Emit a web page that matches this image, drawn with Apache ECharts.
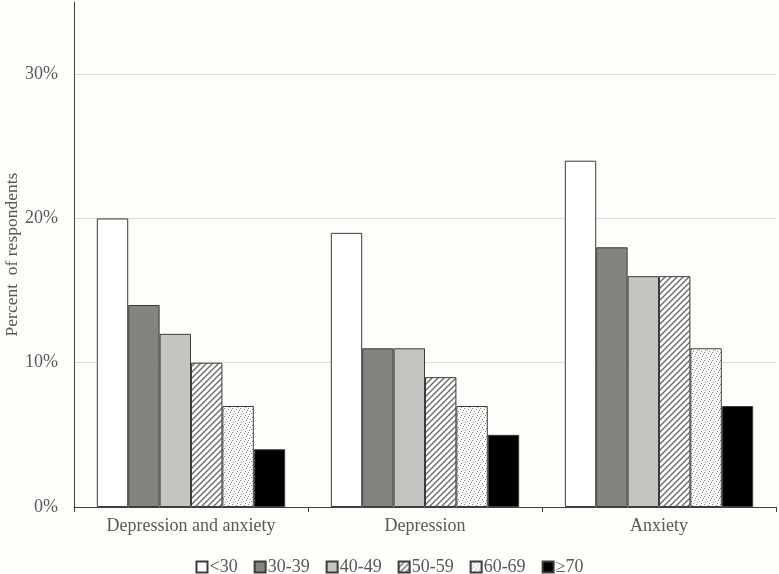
<!DOCTYPE html>
<html><head><meta charset="utf-8">
<script src="https://cdn.jsdelivr.net/npm/echarts@6/dist/echarts.min.js"></script>
<style>html,body{margin:0;padding:0;background:#fdfdf9;}#c{width:779px;height:574px;}</style>
</head><body><div id="c"></div>
<script>
const categories = ['Depression and anxiety', 'Depression', 'Anxiety'];
const ageGroups = ['<30', '30-39', '40-49', '50-59', '60-69', '≥70'];
const lt30 = [20, 19, 24];
const a30_39 = [14, 11, 18];
const a40_49 = [12, 11, 16];
const a50_59 = [10, 9, 16];
const a60_69 = [7, 7, 11];
const ge70 = [4, 5, 7];
const yTicks = [0, 10, 20, 30];

function stripes() {
  const c = document.createElement('canvas');
  c.width = 6; c.height = 6;
  const g = c.getContext('2d');
  g.fillStyle = '#ffffff'; g.fillRect(0, 0, 6, 6);
  g.strokeStyle = '#6a6a6a'; g.lineWidth = 1.4;
  g.beginPath();
  g.moveTo(-1, 7); g.lineTo(7, -1);
  g.moveTo(-4, 4); g.lineTo(4, -4);
  g.moveTo(2, 10); g.lineTo(10, 2);
  g.stroke();
  return c;
}
function dots() {
  const c = document.createElement('canvas');
  c.width = 8; c.height = 8;
  const g = c.getContext('2d');
  g.fillStyle = '#ffffff'; g.fillRect(0, 0, 8, 8);
  g.fillStyle = '#8a8a8a';
  [[0,0],[4,1],[2,3],[6,4],[1,6],[5,7],[3,5],[7,2]].forEach(p => g.fillRect(p[0], p[1], 1, 1));
  return c;
}

const fills = ['#ffffff', '#84847f', '#c4c4c0', {image: stripes(), repeat: 'repeat'}, {image: dots(), repeat: 'repeat'}, '#000000'];
const values = [lt30, a30_39, a40_49, a50_59, a60_69, ge70];
const font = '"Liberation Serif", "Times New Roman", serif';

const chart = echarts.init(document.getElementById('c'), null, {renderer: 'canvas'});
chart.setOption({
  backgroundColor: '#fdfdf9',
  animation: false,
  grid: {left: 74, right: 3, top: 2, bottom: 67, containLabel: false, outerBoundsMode: 'none'},
  legend: {
    top: 553, left: 'center',
    itemWidth: 11, itemHeight: 11, itemGap: 16,
    textStyle: {fontFamily: font, fontSize: 18, color: '#595959', padding: [0, 0, 0, -3]},
    data: ageGroups.map(n => ({name: n, icon: 'rect'}))
  },
  xAxis: {
    type: 'category', data: categories,
    axisLine: {lineStyle: {color: '#404040', width: 1}},
    axisTick: {show: true, length: 5, lineStyle: {color: '#404040'}},
    axisLabel: {fontFamily: font, fontSize: 18, color: '#595959', margin: 10}
  },
  yAxis: {
    type: 'value', min: 0, max: 35, interval: 10,
    name: 'Percent  of respondents', nameLocation: 'middle', nameGap: 53, nameMoveOverlap: false,
    nameTextStyle: {fontFamily: font, fontSize: 17.5, color: '#595959'},
    axisLine: {show: true, lineStyle: {color: '#404040', width: 1}},
    axisTick: {show: false},
    axisLabel: {fontFamily: font, fontSize: 18, color: '#595959', margin: 16, showMaxLabel: false,
      formatter: v => yTicks.includes(v) ? v + '%' : ''},
    splitLine: {show: true, showMaxLine: false, lineStyle: {color: '#dcdcdc', width: 1}}
  },
  series: ageGroups.map((n, i) => ({
    name: n, type: 'bar', data: values[i],
    barGap: '0%', barCategoryGap: '19.5%',
    itemStyle: {color: fills[i], borderColor: '#3c3c3c', borderWidth: 1}
  }))
});
</script></body></html>
